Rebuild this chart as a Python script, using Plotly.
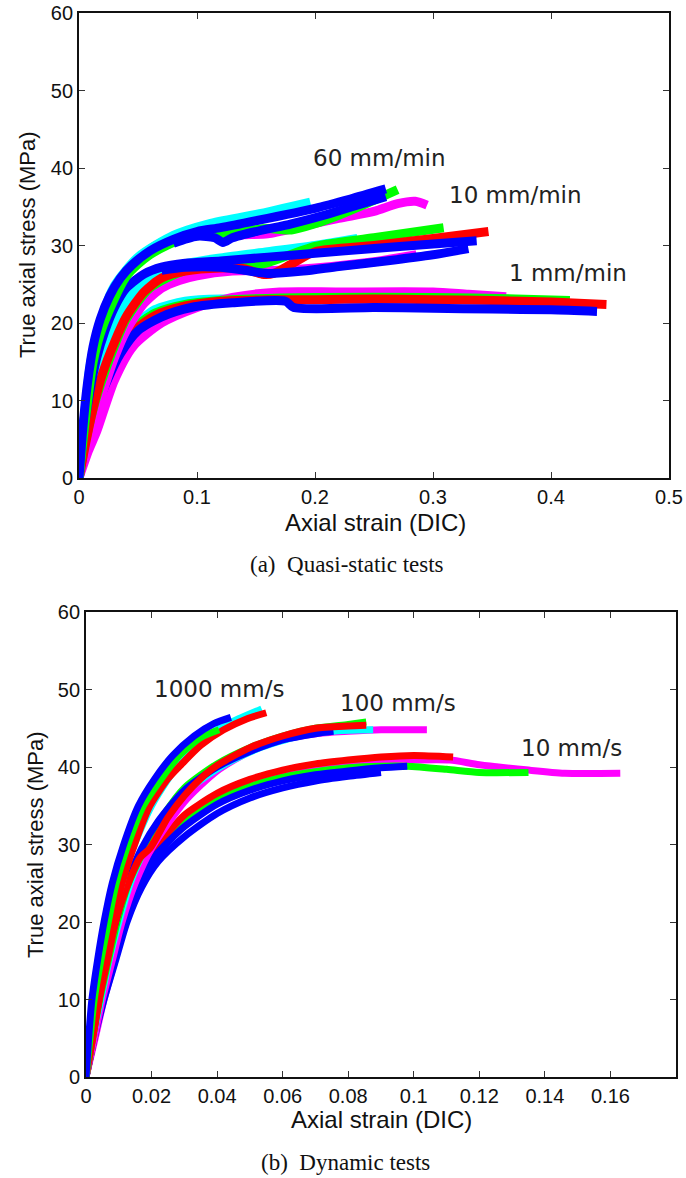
import plotly.graph_objects as go

# ---------------- data ----------------
# Quasi-static tests : strain (DIC) / true axial stress (MPa)
# 60 mm/min
qs60_red_x = [0, 0.004, 0.01, 0.02, 0.04, 0.06, 0.08, 0.1, 0.13, 0.16]
qs60_red_y = [0, 7, 14, 20.5, 26.5, 29.5, 31.1, 32.1, 32.9, 33.7]
qs60_cyan_x = [0, 0.004, 0.01, 0.02, 0.03, 0.05, 0.08, 0.11, 0.15, 0.196]
qs60_cyan_y = [0, 7, 15, 21, 24.8, 28.5, 31.3, 32.8, 34.0, 35.6]
qs60_magenta_x = [0.12, 0.14, 0.16, 0.19, 0.22, 0.25, 0.27, 0.285, 0.295]
qs60_magenta_y = [31.2, 31.4, 31.5, 32.5, 33.5, 34.4, 35.4, 35.7, 35.2]
qs60_green_x = [0, 0.005, 0.012, 0.02, 0.04, 0.06, 0.09, 0.11, 0.14, 0.16, 0.18, 0.2, 0.22, 0.245, 0.27]
qs60_green_y = [0, 7, 15, 19.5, 26, 28.8, 31.0, 31.4, 31.9, 32.2, 32.0, 32.8, 33.9, 35.5, 37.2]
qs60_blue_x = [0, 0.003, 0.007, 0.012, 0.018, 0.026, 0.035, 0.045, 0.06, 0.08, 0.1, 0.12, 0.15, 0.2, 0.23, 0.26]
qs60_blue_y = [0, 6, 12, 17, 20.5, 23.5, 25.8, 27.5, 29.3, 30.8, 31.8, 32.3, 33.2, 34.8, 36.0, 37.3]
qs60_blue2_x = [0.08, 0.1, 0.115, 0.122, 0.13, 0.15, 0.18, 0.21, 0.24, 0.26]
qs60_blue2_y = [30.3, 31.2, 31.0, 30.4, 31.0, 31.8, 32.8, 34.0, 35.4, 36.3]

# 10 mm/min
qs10_magenta_x = [0, 0.01, 0.02, 0.03, 0.04, 0.055, 0.07, 0.085, 0.1, 0.13, 0.17, 0.2, 0.25, 0.286]
qs10_magenta_y = [0, 6, 11, 15.5, 19, 22.5, 24.5, 25.5, 26.1, 26.7, 26.8, 27.1, 27.9, 28.8]
qs10_cyan_x = [0, 0.005, 0.012, 0.02, 0.03, 0.04, 0.055, 0.08, 0.12, 0.16, 0.2, 0.236]
qs10_cyan_y = [0, 5, 10.5, 15, 19.5, 22.8, 25.5, 27.3, 28.4, 29.2, 30.0, 30.9]
qs10_green_x = [0, 0.006, 0.014, 0.025, 0.04, 0.06, 0.09, 0.12, 0.14, 0.16, 0.2, 0.25, 0.309]
qs10_green_y = [0, 5, 10, 15, 20.5, 24.5, 26.8, 27.2, 27.2, 27.8, 29.9, 31.0, 32.3]
qs10_red_x = [0, 0.005, 0.012, 0.02, 0.03, 0.04, 0.055, 0.07, 0.09, 0.12, 0.14, 0.155, 0.165, 0.18, 0.2, 0.25, 0.3, 0.347]
qs10_red_y = [0, 4, 9, 13.5, 17.5, 20.8, 24, 25.8, 26.7, 27.1, 27.0, 26.3, 26.4, 27.6, 29.2, 30.0, 30.9, 31.8]
qs10_blue_x = [0, 0.004, 0.009, 0.015, 0.022, 0.03, 0.04, 0.055, 0.07, 0.09, 0.12, 0.16, 0.2, 0.25, 0.3, 0.337]
qs10_blue_y = [0, 6, 11, 15.5, 19, 22, 24.5, 26.3, 27.2, 27.7, 28.0, 28.5, 29.0, 29.6, 30.2, 30.6]
qs10_blue2_x = [0.07, 0.09, 0.12, 0.14, 0.16, 0.19, 0.22, 0.26, 0.3, 0.33]
qs10_blue2_y = [26.8, 27.2, 27.2, 26.8, 26.4, 26.7, 27.3, 28.0, 28.8, 29.6]

# 1 mm/min
qs1_magenta_x = [0, 0.008, 0.015, 0.03, 0.046, 0.07, 0.1, 0.13, 0.17, 0.22, 0.3, 0.33, 0.362]
qs1_magenta_y = [0, 3.5, 6, 12.6, 17, 20, 22, 23.3, 24.0, 24.0, 24.0, 23.7, 23.4]
qs1_cyan_x = [0, 0.005, 0.01, 0.02, 0.03, 0.045, 0.064, 0.09, 0.12, 0.15]
qs1_cyan_y = [0, 5, 8.5, 12.5, 16, 19.3, 21.7, 22.8, 23.1, 23.0]
qs1_green_x = [0, 0.005, 0.012, 0.02, 0.03, 0.045, 0.065, 0.09, 0.13, 0.2, 0.3, 0.37, 0.416]
qs1_green_y = [0, 4.5, 9, 12.8, 16, 19.2, 21.3, 22.4, 23.0, 23.3, 23.3, 23.1, 22.9]
qs1_red_x = [0, 0.006, 0.012, 0.02, 0.03, 0.045, 0.065, 0.09, 0.12, 0.16, 0.2, 0.25, 0.3, 0.35, 0.4, 0.447]
qs1_red_y = [0, 4, 8, 12, 15.5, 18.8, 21, 22.2, 22.8, 23.0, 23.0, 23.1, 23.0, 22.9, 22.7, 22.4]
qs1_blue_x = [0, 0.005, 0.012, 0.024, 0.035, 0.05, 0.07, 0.095, 0.13, 0.175, 0.182, 0.25, 0.3, 0.35, 0.4, 0.439]
qs1_blue_y = [0, 4, 8, 12.6, 16, 19, 20.8, 22.0, 22.6, 22.8, 22.0, 22.0, 21.9, 21.8, 21.7, 21.5]

# Dynamic tests
# 1000 mm/s
dy1000_cyan_x = [0, 0.0018, 0.0045, 0.008, 0.013, 0.02, 0.03, 0.04, 0.047, 0.0536]
dy1000_cyan_y = [0, 5, 12, 20, 28, 35, 41.3, 44.8, 46.3, 47.5]
dy1000_red_x = [0, 0.002, 0.004, 0.006, 0.0085, 0.011, 0.0148, 0.0195, 0.025, 0.029, 0.035, 0.042, 0.049, 0.055]
dy1000_red_y = [0, 5, 10, 15, 20, 25, 30, 35, 38.5, 40.3, 42.8, 44.8, 46.2, 47.0]
dy1000_green_x = [0, 0.0012, 0.0025, 0.0045, 0.0068, 0.0092, 0.0128, 0.0175, 0.023, 0.0285, 0.035, 0.0406]
dy1000_green_y = [0, 5, 10, 15, 20, 25, 30, 35, 38.5, 41.5, 43.8, 44.8]
dy1000_blue_x = [0, 0.0008, 0.0018, 0.0035, 0.0055, 0.008, 0.0115, 0.016, 0.021, 0.0265, 0.033, 0.039, 0.0442]
dy1000_blue_y = [0, 5, 10, 15, 20, 25, 30, 35, 38.5, 41.5, 44.0, 45.6, 46.4]

# 100 mm/s
dy100_magenta_x = [0, 0.0025, 0.005, 0.008, 0.011, 0.015, 0.02, 0.03, 0.04, 0.05, 0.06, 0.07, 0.08, 0.09, 0.104]
dy100_magenta_y = [0, 5, 10, 15, 20, 25, 29.5, 35.5, 39.5, 42.0, 43.5, 44.3, 44.6, 44.8, 44.8]
dy100_cyan_x = [0, 0.002, 0.0045, 0.007, 0.01, 0.0135, 0.018, 0.023, 0.031, 0.041, 0.052, 0.065, 0.078, 0.0876]
dy100_cyan_y = [0, 5, 10, 15, 20, 25, 29.5, 33, 37, 40, 42.3, 44.0, 44.7, 44.8]
dy100_green_x = [0, 0.002, 0.0042, 0.0068, 0.0095, 0.013, 0.018, 0.024, 0.03, 0.04, 0.05, 0.06, 0.07, 0.08, 0.0855]
dy100_green_y = [0, 5, 10, 15, 20, 25, 29.5, 34, 37.3, 40.4, 42.5, 44.0, 45.0, 45.5, 45.8]
dy100_red_x = [0, 0.002, 0.004, 0.0065, 0.009, 0.012, 0.0165, 0.0195, 0.025, 0.03, 0.035, 0.04, 0.05, 0.06, 0.07, 0.08, 0.0855]
dy100_red_y = [0, 5, 10, 15, 20, 24, 28.3, 29.5, 33.5, 36.3, 38.5, 40.2, 42.5, 44.0, 45.0, 45.3, 45.4]
dy100_blue_x = [0, 0.0015, 0.0035, 0.006, 0.009, 0.0125, 0.017, 0.022, 0.03, 0.04, 0.05, 0.06, 0.07, 0.0755]
dy100_blue_y = [0, 5, 10, 15, 20, 25, 29.5, 33, 37, 40, 42, 43.5, 44.3, 44.6]

# 10 mm/s
dy10_magenta_x = [0, 0.0028, 0.0055, 0.0088, 0.012, 0.016, 0.02, 0.03, 0.04, 0.05, 0.06, 0.07, 0.08, 0.09, 0.1, 0.111, 0.12, 0.135, 0.146, 0.163]
dy10_magenta_y = [0, 5, 10, 15, 20, 25, 29.0, 33.5, 36.3, 38.0, 39.2, 39.9, 40.4, 40.7, 40.9, 40.9, 40.3, 39.6, 39.2, 39.2]
dy10_green_x = [0, 0.0025, 0.005, 0.008, 0.0115, 0.016, 0.021, 0.03, 0.04, 0.05, 0.06, 0.07, 0.08, 0.09, 0.098, 0.11, 0.12, 0.135]
dy10_green_y = [0, 5, 10, 15, 20, 25, 29, 33, 35.8, 37.5, 38.7, 39.4, 39.9, 40.1, 40.1, 39.7, 39.3, 39.3]
dy10_red_x = [0, 0.0025, 0.005, 0.008, 0.011, 0.015, 0.02, 0.025, 0.03, 0.04, 0.05, 0.06, 0.07, 0.08, 0.09, 0.1, 0.112]
dy10_red_y = [0, 5, 10, 15, 20, 25, 29, 31.5, 33.8, 36.6, 38.4, 39.6, 40.4, 40.9, 41.3, 41.5, 41.3]
dy10_blue_x = [0, 0.002, 0.0045, 0.0075, 0.011, 0.0155, 0.021, 0.03, 0.04, 0.05, 0.06, 0.07, 0.08, 0.09, 0.098]
dy10_blue_y = [0, 5, 10, 15, 20, 25, 28.5, 32.3, 35.2, 37.0, 38.2, 39.0, 39.5, 39.9, 40.1]
dy10_blue2_x = [0, 0.0025, 0.0055, 0.009, 0.0125, 0.017, 0.022, 0.03, 0.04, 0.05, 0.06, 0.07, 0.08, 0.09]
dy10_blue2_y = [0, 5, 10, 15, 20, 24.5, 27.8, 31.0, 34.0, 36.0, 37.3, 38.2, 38.8, 39.3]

qs_xticks = [0, 0.1, 0.2, 0.3, 0.4, 0.5]
qs_xticklabels = ["0", "0.1", "0.2", "0.3", "0.4", "0.5"]
dy_xticks = [0, 0.02, 0.04, 0.06, 0.08, 0.1, 0.12, 0.14, 0.16]
dy_xticklabels = ["0", "0.02", "0.04", "0.06", "0.08", "0.1", "0.12", "0.14", "0.16"]
yticks = [0, 10, 20, 30, 40, 50, 60]

qs_labels = ["60 mm/min", "10 mm/min", "1 mm/min"]
dy_labels = ["1000 mm/s", "100 mm/s", "10 mm/s"]

# ---------------- styling ----------------
RED, GREEN, BLUE, CYAN, MAGENTA = "#ff0000", "#00ff00", "#0000ff", "#00ffff", "#ff00ff"
W, H = 686, 1178

fig = go.Figure()

def add(x, y, color, width, ax):
    fig.add_trace(go.Scatter(
        x=x, y=y, mode="lines", showlegend=False, hoverinfo="skip",
        line=dict(color=color, width=width, shape="spline", smoothing=0.7),
        xaxis="x" if ax == 1 else "x2", yaxis="y" if ax == 1 else "y2"))

QW = 9
for (x, y, c) in [
    (qs1_cyan_x, qs1_cyan_y, CYAN), (qs1_magenta_x, qs1_magenta_y, MAGENTA),
    (qs1_green_x, qs1_green_y, GREEN), (qs1_red_x, qs1_red_y, RED),
    (qs1_blue_x, qs1_blue_y, BLUE),
    (qs10_magenta_x, qs10_magenta_y, MAGENTA), (qs10_cyan_x, qs10_cyan_y, CYAN),
    (qs10_green_x, qs10_green_y, GREEN), (qs10_red_x, qs10_red_y, RED),
    (qs10_blue_x, qs10_blue_y, BLUE), (qs10_blue2_x, qs10_blue2_y, BLUE),
    (qs60_red_x, qs60_red_y, RED), (qs60_cyan_x, qs60_cyan_y, CYAN),
    (qs60_magenta_x, qs60_magenta_y, MAGENTA), (qs60_green_x, qs60_green_y, GREEN),
    (qs60_blue_x, qs60_blue_y, BLUE), (qs60_blue2_x, qs60_blue2_y, BLUE),
]:
    add(x, y, c, QW, 1)

DW = 7
for (x, y, c) in [
    (dy10_magenta_x, dy10_magenta_y, MAGENTA), (dy10_green_x, dy10_green_y, GREEN),
    (dy10_red_x, dy10_red_y, RED), (dy10_blue2_x, dy10_blue2_y, BLUE),
    (dy10_blue_x, dy10_blue_y, BLUE),
    (dy100_magenta_x, dy100_magenta_y, MAGENTA), (dy100_cyan_x, dy100_cyan_y, CYAN),
    (dy100_green_x, dy100_green_y, GREEN), (dy100_blue_x, dy100_blue_y, BLUE),
    (dy100_red_x, dy100_red_y, RED),
    (dy1000_cyan_x, dy1000_cyan_y, CYAN), (dy1000_red_x, dy1000_red_y, RED),
    (dy1000_green_x, dy1000_green_y, GREEN), (dy1000_blue_x, dy1000_blue_y, BLUE),
]:
    add(x, y, c, DW, 2)

tickfont = dict(family="Liberation Sans, Arial, sans-serif", size=20, color="#111")
axis_common = dict(ticks="inside", ticklen=6, tickwidth=1, tickcolor="#333",
                   mirror="ticks", showline=True, linecolor="#111", linewidth=1.8,
                   showgrid=False, zeroline=False, tickfont=tickfont, fixedrange=True,
                   ticklabeloverflow="allow")

def dom_x(l, r):
    return [l / W, r / W]

def dom_y(t, b):
    return [(H - b) / H, (H - t) / H]

fig.update_layout(
    width=W, height=H, margin=dict(l=0, r=0, t=0, b=0),
    paper_bgcolor="white", plot_bgcolor="white", template="none",
    xaxis=dict(domain=dom_x(79, 669), range=[0, 0.5], tickvals=qs_xticks,
               ticktext=qs_xticklabels, anchor="y", **axis_common),
    yaxis=dict(domain=dom_y(13, 478), range=[0, 60], tickvals=yticks, anchor="x", **axis_common),
    xaxis2=dict(domain=dom_x(86, 676), range=[0, 0.18], tickvals=dy_xticks,
                ticktext=dy_xticklabels, anchor="y2", **axis_common),
    yaxis2=dict(domain=dom_y(612, 1077), range=[0, 60], tickvals=yticks, anchor="x2", **axis_common),
)

labfont = dict(family="DejaVu Sans, sans-serif", size=23, color="#222")
ann = []
for txt, x, y in zip(qs_labels, [0.197, 0.312, 0.363], [41.3, 36.5, 26.5]):
    ann.append(dict(text=txt, x=x, y=y, xref="x", yref="y", xanchor="left", yanchor="middle",
                    showarrow=False, font=labfont))
for txt, x, y in zip(dy_labels, [0.02, 0.077, 0.132], [50.1, 48.3, 42.5]):
    ann.append(dict(text=txt, x=x, y=y, xref="x2", yref="y2", xanchor="left", yanchor="middle",
                    showarrow=False, font=labfont))

xtitlefont = dict(family="Liberation Sans, Arial, sans-serif", size=24, color="#111")
ytitlefont = dict(family="Liberation Sans, Arial, sans-serif", size=22, color="#111")
capfont = dict(family="Liberation Serif, Times New Roman, serif", size=23, color="#111")

def paper(px, py):
    return px / W, 1 - py / H

for txt, (px, py), rot, f in [
    ("Axial strain (DIC)", (375, 522), 0, xtitlefont),
    ("True axial stress (MPa)", (27, 245), -90, ytitlefont),
    ("Axial strain (DIC)", (381, 1119), 0, xtitlefont),
    ("True axial stress (MPa)", (35, 845), -90, ytitlefont),
    ("(a)\u00a0\u00a0Quasi-static tests", (347, 564), 0, capfont),
    ("(b)\u00a0\u00a0Dynamic tests", (345, 1162), 0, capfont),
]:
    x, y = paper(px, py)
    ann.append(dict(text=txt, x=x, y=y, xref="paper", yref="paper", xanchor="center",
                    yanchor="middle", showarrow=False, textangle=rot, font=f))

fig.update_layout(annotations=ann)
fig.write_html("out.html", config={"displayModeBar": False},
               post_script="document.body.style.margin='0px';document.body.style.overflow='hidden';")
